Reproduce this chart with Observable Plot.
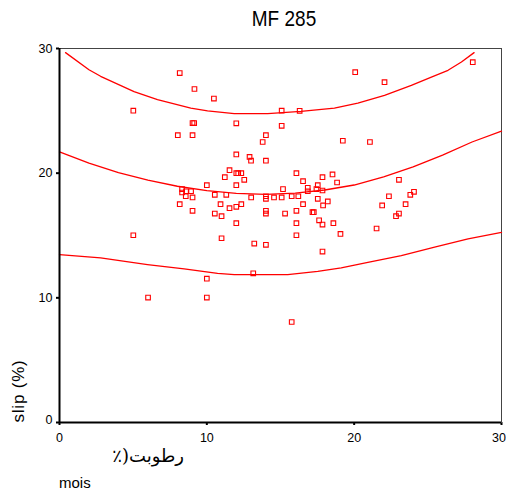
<!DOCTYPE html>
<html><head><meta charset="utf-8">
<script src="https://cdn.jsdelivr.net/npm/d3@7"></script>
<script src="https://cdn.jsdelivr.net/npm/@observablehq/plot@0.6"></script>
<style>
body{margin:0;background:#fff;}
#wrap{position:relative;width:506px;height:497px;overflow:hidden;font-family:"Liberation Sans",Arial,sans-serif;background:#fff;}
#chart{position:absolute;left:0;top:0;}
#title{position:absolute;left:234px;width:100px;top:8px;text-align:center;font-size:19px;line-height:19px;color:#000;transform:scaleY(1.15);transform-origin:center top;}
#xlab{position:absolute;left:0;width:184px;top:446px;text-align:right;direction:rtl;font-size:18px;line-height:20px;color:#000;font-family:"DejaVu Serif","DejaVu Sans",serif;}
#xlab2{position:absolute;left:59px;white-space:nowrap;top:474px;font-size:15px;line-height:18px;color:#000;}
svg [aria-label="x-axis tick"] path, svg [aria-label="y-axis tick"] path, svg g[aria-label="x-axis"] line, svg g[aria-label="y-axis"] line{stroke-width:2px;}
</style></head><body>
<div id="wrap">
<div id="chart"></div>
<div id="title">MF 285</div>
<div id="xlab">رطوبت(٪</div>
<div id="xlab2">mois</div>
</div>
<script>
// observed points: moisture (%) vs slip (%)
const moisture = [8.16,9.16,10.48,5.01,15.08,16.3,9.03,9.14,12.0,15.08,8.03,9.03,14.01,13.79,19.23,21.07,20.07,22.06,28.05,12.0,
12.9,13.0,14.01,11.54,12.0,12.13,12.34,11.22,12.54,12.0,10.0,8.32,8.32,8.59,8.93,8.57,9.03,8.16,9.03,10.54,
11.32,10.93,11.54,12.0,12.34,10.54,11.0,12.0,11.0,13.01,14.01,14.01,14.56,15.08,15.17,15.76,16.21,14.01,14.01,15.31,
16.08,16.53,16.85,16.85,17.53,17.44,17.85,17.85,18.53,18.84,17.53,18.21,16.53,17.89,16.08,17.17,17.26,17.62,17.85,18.59,
16.08,16.08,19.07,17.85,13.22,14.01,5.01,21.52,21.9,22.36,23.04,23.49,23.81,24.06,22.84,23.04,10.0,13.15,6.01,10.0,15.76];
const slip = [28.03,26.75,25.98,25.01,25.01,25.0,24.02,24.02,24.0,23.8,23.05,23.05,23.05,22.5,22.6,22.5,28.1,27.3,28.9,21.5,
21.3,21.0,21.0,20.24,20.0,20.0,20.0,19.68,19.47,19.04,19.04,18.72,18.45,18.55,18.55,18.15,18.05,17.51,16.98,18.26,
18.26,17.51,17.19,17.3,17.51,16.76,16.55,15.99,14.78,18.05,18.15,17.94,18.05,18.05,18.72,18.15,18.15,16.98,16.76,16.76,
20.0,19.36,18.83,18.55,19.04,18.72,19.68,18.61,19.9,19.25,17.94,17.73,17.51,17.41,16.98,16.87,16.87,16.22,15.88,15.99,
15.99,15.02,15.13,13.71,14.35,14.25,15.02,15.56,17.41,18.15,19.47,17.51,18.26,18.5,16.55,16.76,11.54,11.97,10.02,10.02,8.06];

// fitted curve and its upper / lower bands
const fitX = [0,2,4,6,8,10,12,14,16,18,20,22,24,26,28,30];
const fitY = [21.7,20.8,20.05,19.45,18.95,18.6,18.38,18.3,18.4,18.65,19.05,19.7,20.5,21.45,22.5,23.37];
const upperX = [0.41,2.0,2.79,5.06,6.65,8.91,10.05,11.86,14.13,16.39,18.66,20.25,22.06,23.88,25.24,26.37,27.28,28.14];
const upperY = [29.67,28.3,27.77,26.54,25.9,25.22,25.0,24.77,24.77,24.96,25.22,25.62,26.24,27.04,27.71,28.25,28.92,29.67];
const lowerX = [0,2.79,5.97,8.46,10.73,11.86,15.49,17.53,19.12,20.93,23.2,25.46,27.73,30];
const lowerY = [13.47,13.2,12.67,12.32,11.97,11.86,11.86,12.13,12.4,12.85,13.39,14.06,14.73,15.25];

const xTicks = [0,10,20,30];
const yTicks = [0,10,20,30];

const points = moisture.map((m,i)=>({m, s: slip[i]}));
const curve = (xs, ys) => xs.map((x,i)=>({x, y: ys[i]}));

const red = "#ff0000";
const chart = Plot.plot({
  width: 506, height: 497,
  marginTop: 48, marginBottom: 75, marginLeft: 59, marginRight: 5,
  style: {fontFamily: "Liberation Sans, Arial, sans-serif", fontSize: "12.5px", color: "#000", background: "transparent", overflow: "visible"},
  x: {domain: [0,30], ticks: xTicks, tickSize: 3, tickPadding: 8, label: null, tickFormat: d => d},
  y: {domain: [0,30], ticks: yTicks, tickSize: 3, tickPadding: 4, label: null, tickFormat: d => d},
  marks: [
    Plot.frame({stroke: "#444", strokeWidth: 1}),
    Plot.line(curve(upperX, upperY), {x: "x", y: "y", stroke: red, strokeWidth: 1.3}),
    Plot.line(curve(fitX, fitY), {x: "x", y: "y", stroke: red, strokeWidth: 1.3}),
    Plot.line(curve(lowerX, lowerY), {x: "x", y: "y", stroke: red, strokeWidth: 1.3}),
    Plot.dot(points, {x: "m", y: "s", symbol: "square", r: 2.6, stroke: red, fill: "none", strokeWidth: 1.1}),
    Plot.ruleX([0], {stroke: "#000", strokeWidth: 2}),
    Plot.ruleY([0], {stroke: "#000", strokeWidth: 2})
  ]
});
document.getElementById("chart").appendChild(chart);

// keep the last x tick label inside the window
d3.select(chart).selectAll('[aria-label^="x-axis"] text')
  .filter(function(){ return this.textContent === String(xTicks[xTicks.length-1]); })
  .attr("text-anchor", "end").attr("dx", 4.5);
// the y "0" label sits a little above its tick in the reference
d3.select(chart).selectAll('[aria-label^="y-axis"] text')
  .filter(function(){ return this.textContent === String(yTicks[0]); })
  .attr("dy", "-0.2em");

d3.select(chart).append("text")
  .attr("transform", "translate(24,391) rotate(-90)")
  .attr("text-anchor", "middle")
  .attr("font-size", 17)
  .attr("letter-spacing", "0.8px")
  .attr("fill", "#000")
  .text("slip (%)");
</script>
</body></html>
